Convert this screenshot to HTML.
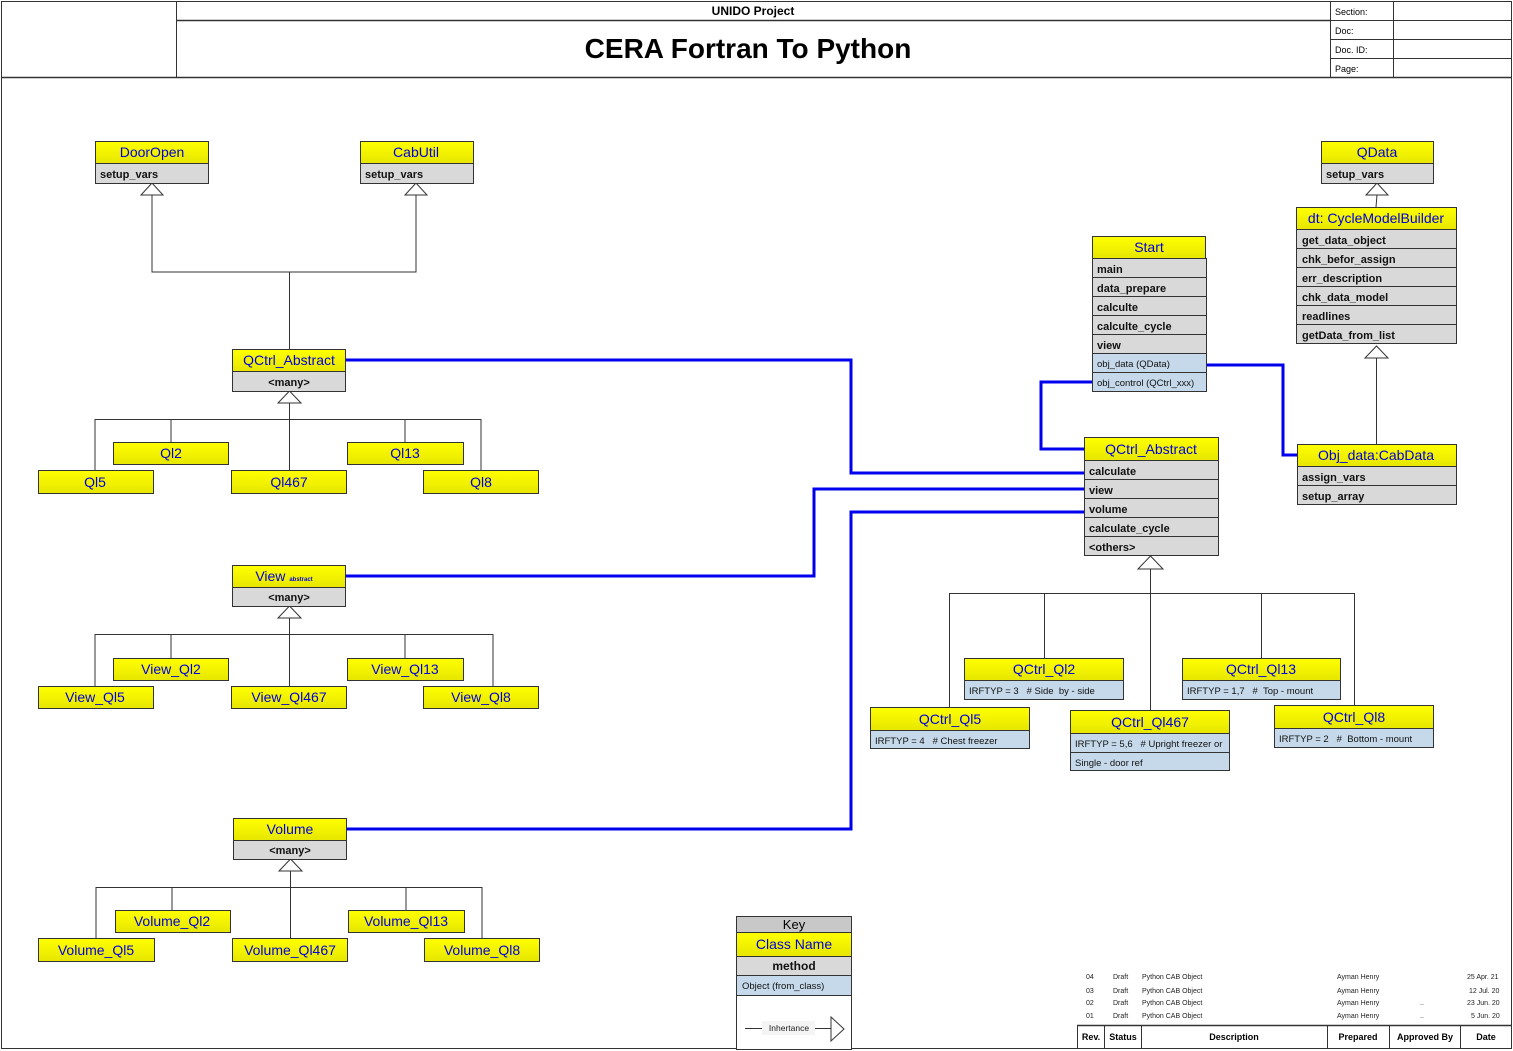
<!DOCTYPE html>
<html><head><meta charset="utf-8">
<style>
html,body{margin:0;padding:0;background:#fff;}
svg{display:block;}
text{font-family:"Liberation Sans",sans-serif;}
.h{fill:#0000e0;font-size:14px;text-anchor:middle;}
.m{fill:#111;font-size:11px;font-weight:bold;}
.mc{fill:#111;font-size:11px;font-weight:bold;text-anchor:middle;}
.o{fill:#111;font-size:9.5px;white-space:pre;}
.s{fill:#222;font-size:7px;}
.ln{stroke:#333;stroke-width:1;fill:none;}
.bl{stroke:#0000ee;stroke-width:3;fill:none;}
.y{fill:url(#yg);stroke:#333;stroke-width:1;}
.g{fill:#d9d9d9;stroke:#333;stroke-width:1;}
.b{fill:#c5d9ea;stroke:#333;stroke-width:1;}
.t{fill:#fff;stroke:#333;stroke-width:1;}
</style></head><body>
<svg width="1513" height="1051" viewBox="0 0 1513 1051" xmlns="http://www.w3.org/2000/svg" xml:space="preserve">
<defs>
<linearGradient id="yg" x1="0" y1="0" x2="0" y2="1"><stop offset="0" stop-color="#ffff00"/><stop offset="1" stop-color="#e6e600"/></linearGradient>
</defs>
<rect x="1.5" y="1.5" width="1510" height="1047" fill="none" stroke="#333"/>
<line x1="1" y1="77.5" x2="1512" y2="77.5" stroke="#333" stroke-width="1.5"/>
<line x1="176.5" y1="1" x2="176.5" y2="77" stroke="#333"/>
<line x1="1330.5" y1="1" x2="1330.5" y2="77" stroke="#333"/>
<line x1="176" y1="20.5" x2="1330" y2="20.5" stroke="#333" stroke-width="1.5"/>
<text x="753" y="15" style="font-size:12px;font-weight:bold;text-anchor:middle">UNIDO Project</text>
<text x="748" y="58" style="font-size:28px;font-weight:bold;text-anchor:middle">CERA Fortran To Python</text>
<line x1="1393.5" y1="1" x2="1393.5" y2="77" stroke="#333"/>
<line x1="1330" y1="20.5" x2="1512" y2="20.5" stroke="#333"/>
<line x1="1330" y1="39.5" x2="1512" y2="39.5" stroke="#333"/>
<line x1="1330" y1="58.5" x2="1512" y2="58.5" stroke="#333"/>
<text x="1335" y="15" style="font-size:9px">Section:</text>
<text x="1335" y="34" style="font-size:9px">Doc:</text>
<text x="1335" y="53" style="font-size:9px">Doc. ID:</text>
<text x="1335" y="72" style="font-size:9px">Page:</text>

<polyline class="bl" points="345,360 851,360 851,473 1084,473"/>
<polyline class="bl" points="345,576 814,576 814,489 1084,489"/>
<polyline class="bl" points="346,829 851,829 851,512 1084,512"/>
<polyline class="bl" points="1092,382 1041,382 1041,449 1084,449"/>
<polyline class="bl" points="1206,365 1283,365 1283,455 1297,455"/>

<polyline class="ln" points="152,195 152,272 416,272 416,195"/>
<line class="ln" x1="289.5" y1="272" x2="289.5" y2="349"/>
<polygon class="t" points="152,183 141,195 163,195"/>
<polygon class="t" points="416,183 405,195 427,195"/>

<rect class="y" x="95.5" y="141.5" width="113" height="22"/><text class="h" x="152" y="157">DoorOpen</text>
<rect class="g" x="95.5" y="163.5" width="113" height="20"/><text class="m" x="100" y="178">setup_vars</text>
<rect class="y" x="360.5" y="141.5" width="113" height="22"/><text class="h" x="416" y="157">CabUtil</text>
<rect class="g" x="360.5" y="163.5" width="113" height="20"/><text class="m" x="365" y="178">setup_vars</text>

<polyline class="ln" points="95,470 95,419.5 481,419.5 481,470"/>
<line class="ln" x1="171" y1="419" x2="171" y2="442"/>
<line class="ln" x1="405" y1="419" x2="405" y2="442"/>
<line class="ln" x1="289.5" y1="403" x2="289.5" y2="470"/>
<polygon class="t" points="289.5,391 278,403 301,403"/>
<rect class="y" x="232.5" y="349.5" width="113" height="22"/><text class="h" x="289" y="365">QCtrl_Abstract</text>
<rect class="g" x="232.5" y="371.5" width="113" height="20"/><text class="mc" x="289" y="386">&lt;many&gt;</text>
<rect class="y" x="113.5" y="442.5" width="115" height="22"/><text class="h" x="171" y="458">Ql2</text>
<rect class="y" x="347.5" y="442.5" width="116" height="22"/><text class="h" x="405" y="458">Ql13</text>
<rect class="y" x="38.5" y="470.5" width="115" height="23"/><text class="h" x="95" y="487">Ql5</text>
<rect class="y" x="231.5" y="470.5" width="115" height="23"/><text class="h" x="289" y="487">Ql467</text>
<rect class="y" x="423.5" y="470.5" width="115" height="23"/><text class="h" x="481" y="487">Ql8</text>

<polyline class="ln" points="95,686 95,634.5 493,634.5 493,686"/>
<line class="ln" x1="171" y1="634" x2="171" y2="658"/>
<line class="ln" x1="405" y1="634" x2="405" y2="658"/>
<line class="ln" x1="289.5" y1="618" x2="289.5" y2="686"/>
<polygon class="t" points="289.5,606 278,618 301,618"/>
<rect class="y" x="232.5" y="565.5" width="113" height="22"/><text class="h" x="284" y="581">View <tspan style="font-size:6px;font-weight:bold">abstract</tspan></text>
<rect class="g" x="232.5" y="587.5" width="113" height="19"/><text class="mc" x="289" y="601">&lt;many&gt;</text>
<rect class="y" x="113.5" y="658.5" width="115" height="22"/><text class="h" x="171" y="674">View_Ql2</text>
<rect class="y" x="347.5" y="658.5" width="116" height="22"/><text class="h" x="405" y="674">View_Ql13</text>
<rect class="y" x="38.5" y="686.5" width="115" height="22"/><text class="h" x="95" y="702">View_Ql5</text>
<rect class="y" x="231.5" y="686.5" width="115" height="22"/><text class="h" x="289" y="702">View_Ql467</text>
<rect class="y" x="423.5" y="686.5" width="115" height="22"/><text class="h" x="481" y="702">View_Ql8</text>

<polyline class="ln" points="96,938 96,887.5 482,887.5 482,938"/>
<line class="ln" x1="172" y1="887" x2="172" y2="910"/>
<line class="ln" x1="406" y1="887" x2="406" y2="910"/>
<line class="ln" x1="290.5" y1="871" x2="290.5" y2="938"/>
<polygon class="t" points="290.5,859 279,871 302,871"/>
<rect class="y" x="233.5" y="818.5" width="113" height="22"/><text class="h" x="290" y="834">Volume</text>
<rect class="g" x="233.5" y="840.5" width="113" height="19"/><text class="mc" x="290" y="854">&lt;many&gt;</text>
<rect class="y" x="115.5" y="910.5" width="115" height="22"/><text class="h" x="172" y="926">Volume_Ql2</text>
<rect class="y" x="348.5" y="910.5" width="116" height="22"/><text class="h" x="406" y="926">Volume_Ql13</text>
<rect class="y" x="38.5" y="938.5" width="116" height="23"/><text class="h" x="96" y="955">Volume_Ql5</text>
<rect class="y" x="232.5" y="938.5" width="115" height="23"/><text class="h" x="290" y="955">Volume_Ql467</text>
<rect class="y" x="424.5" y="938.5" width="115" height="23"/><text class="h" x="482" y="955">Volume_Ql8</text>

<line class="ln" x1="1377" y1="195" x2="1376" y2="207"/>
<polygon class="t" points="1377,183 1366,195 1388,195"/>
<rect class="y" x="1321.5" y="141.5" width="112" height="22"/><text class="h" x="1377" y="157">QData</text>
<rect class="g" x="1321.5" y="163.5" width="112" height="20"/><text class="m" x="1326" y="178">setup_vars</text>
<rect class="y" x="1296.5" y="207.5" width="160" height="22"/><text class="h" x="1376" y="223">dt: CycleModelBuilder</text>
<rect class="g" x="1296.5" y="229.5" width="160" height="19"/><text class="m" x="1302" y="244">get_data_object</text>
<rect class="g" x="1296.5" y="248.5" width="160" height="19"/><text class="m" x="1302" y="263">chk_befor_assign</text>
<rect class="g" x="1296.5" y="267.5" width="160" height="19"/><text class="m" x="1302" y="282">err_description</text>
<rect class="g" x="1296.5" y="286.5" width="160" height="19"/><text class="m" x="1302" y="301">chk_data_model</text>
<rect class="g" x="1296.5" y="305.5" width="160" height="19"/><text class="m" x="1302" y="320">readlines</text>
<rect class="g" x="1296.5" y="324.5" width="160" height="19"/><text class="m" x="1302" y="339">getData_from_list</text>
<line class="ln" x1="1376.5" y1="358" x2="1376.5" y2="444"/>
<polygon class="t" points="1376.5,346 1365,358 1388,358"/>
<rect class="y" x="1297.5" y="444.5" width="159" height="22"/><text class="h" x="1376" y="460">Obj_data:CabData</text>
<rect class="g" x="1297.5" y="466.5" width="159" height="19"/><text class="m" x="1302" y="481">assign_vars</text>
<rect class="g" x="1297.5" y="485.5" width="159" height="19"/><text class="m" x="1302" y="500">setup_array</text>

<rect class="y" x="1092.5" y="236.5" width="113" height="22"/><text class="h" x="1149" y="252">Start</text>
<rect class="g" x="1092.5" y="258.5" width="114" height="19"/><text class="m" x="1097" y="273">main</text>
<rect class="g" x="1092.5" y="277.5" width="114" height="19"/><text class="m" x="1097" y="292">data_prepare</text>
<rect class="g" x="1092.5" y="296.5" width="114" height="19"/><text class="m" x="1097" y="311">calculte</text>
<rect class="g" x="1092.5" y="315.5" width="114" height="19"/><text class="m" x="1097" y="330">calculte_cycle</text>
<rect class="g" x="1092.5" y="334.5" width="114" height="19"/><text class="m" x="1097" y="349">view</text>
<rect class="b" x="1092.5" y="353.5" width="114" height="19"/><text class="o" x="1097" y="367">obj_data (QData)</text>
<rect class="b" x="1092.5" y="372.5" width="114" height="19"/><text class="o" x="1097" y="386">obj_control (QCtrl_xxx)</text>

<rect class="y" x="1084.5" y="437.5" width="134" height="23"/><text class="h" x="1151" y="454">QCtrl_Abstract</text>
<rect class="g" x="1084.5" y="460.5" width="134" height="19"/><text class="m" x="1089" y="475">calculate</text>
<rect class="g" x="1084.5" y="479.5" width="134" height="19"/><text class="m" x="1089" y="494">view</text>
<rect class="g" x="1084.5" y="498.5" width="134" height="19"/><text class="m" x="1089" y="513">volume</text>
<rect class="g" x="1084.5" y="517.5" width="134" height="19"/><text class="m" x="1089" y="532">calculate_cycle</text>
<rect class="g" x="1084.5" y="536.5" width="134" height="19"/><text class="m" x="1089" y="551">&lt;others&gt;</text>

<polyline class="ln" points="949.5,707 949.5,593.5 1354.5,593.5 1354.5,705"/>
<line class="ln" x1="1044.5" y1="593" x2="1044.5" y2="658"/>
<line class="ln" x1="1261.5" y1="593" x2="1261.5" y2="658"/>
<line class="ln" x1="1150.5" y1="569" x2="1150.5" y2="710"/>
<polygon class="t" points="1150.5,556 1138,569 1163,569"/>
<rect class="y" x="964.5" y="658.5" width="159" height="22"/><text class="h" x="1044" y="674">QCtrl_Ql2</text>
<rect class="b" x="964.5" y="680.5" width="159" height="19"/><text class="o" x="969" y="694">IRFTYP = 3   # Side  by - side</text>
<rect class="y" x="1182.5" y="658.5" width="158" height="22"/><text class="h" x="1261" y="674">QCtrl_Ql13</text>
<rect class="b" x="1182.5" y="680.5" width="158" height="19"/><text class="o" x="1187" y="694">IRFTYP = 1,7   #  Top - mount</text>
<rect class="y" x="870.5" y="707.5" width="159" height="23"/><text class="h" x="950" y="724">QCtrl_Ql5</text>
<rect class="b" x="870.5" y="730.5" width="159" height="18"/><text class="o" x="875" y="744">IRFTYP = 4   # Chest freezer</text>
<rect class="y" x="1070.5" y="710.5" width="159" height="23"/><text class="h" x="1150" y="727">QCtrl_Ql467</text>
<rect class="b" x="1070.5" y="733.5" width="159" height="19"/><text class="o" x="1075" y="747">IRFTYP = 5,6   # Upright freezer or</text>
<rect class="b" x="1070.5" y="752.5" width="159" height="18"/><text class="o" x="1075" y="766">Single - door ref</text>
<rect class="y" x="1274.5" y="705.5" width="159" height="23"/><text class="h" x="1354" y="722">QCtrl_Ql8</text>
<rect class="b" x="1274.5" y="728.5" width="159" height="19"/><text class="o" x="1279" y="742">IRFTYP = 2   #  Bottom - mount</text>

<rect x="736.5" y="916.5" width="115" height="133" fill="#fff" stroke="#333"/>
<rect class="g" x="736.5" y="916.5" width="115" height="16" style="fill:#c8c8c8"/><text x="794" y="929" style="font-size:13px;text-anchor:middle">Key</text>
<rect class="y" x="736.5" y="932.5" width="115" height="24"/><text class="h" x="794" y="949">Class Name</text>
<rect class="g" x="736.5" y="956.5" width="115" height="19"/><text class="mc" x="794" y="970" style="font-size:12px">method</text>
<rect class="b" x="736.5" y="975.5" width="115" height="20"/><text class="o" x="742" y="989">Object (from_class)</text>
<line class="ln" x1="745" y1="1028.5" x2="831" y2="1028.5"/>
<rect x="762" y="1021" width="53" height="14" fill="#f4f4f4"/>
<text x="789" y="1031" style="font-size:8.5px;text-anchor:middle;fill:#222">Inhertance</text>
<polygon class="t" points="831,1017 844,1029 831,1041"/>

<line x1="1077" y1="1025.5" x2="1512" y2="1025.5" stroke="#333" stroke-width="1.5"/>
<line x1="1077.5" y1="1025" x2="1077.5" y2="1049" stroke="#333"/>
<line x1="1104.5" y1="1025" x2="1104.5" y2="1049" stroke="#333"/>
<line x1="1141.5" y1="1025" x2="1141.5" y2="1049" stroke="#333"/>
<line x1="1327.5" y1="1025" x2="1327.5" y2="1049" stroke="#333"/>
<line x1="1389.5" y1="1025" x2="1389.5" y2="1049" stroke="#333"/>
<line x1="1460.5" y1="1025" x2="1460.5" y2="1049" stroke="#333"/>
<g style="font-size:9px;font-weight:bold;text-anchor:middle">
<text x="1091" y="1040">Rev.</text><text x="1123" y="1040">Status</text><text x="1234" y="1040">Description</text>
<text x="1358" y="1040">Prepared</text><text x="1425" y="1040">Approved By</text><text x="1486" y="1040">Date</text>
</g>
<g class="s">
<text x="1086" y="979">04</text><text x="1113" y="979">Draft</text><text x="1142" y="979">Python CAB Object</text><text x="1337" y="979">Ayman Henry</text><text x="1467" y="979">25 Apr. 21</text>
<text x="1086" y="993">03</text><text x="1113" y="993">Draft</text><text x="1142" y="993">Python CAB Object</text><text x="1337" y="993">Ayman Henry</text><text x="1469" y="993">12 Jul. 20</text>
<text x="1086" y="1005">02</text><text x="1113" y="1005">Draft</text><text x="1142" y="1005">Python CAB Object</text><text x="1337" y="1005">Ayman Henry</text><text x="1420" y="1005">..</text><text x="1467" y="1005">23 Jun. 20</text>
<text x="1086" y="1018">01</text><text x="1113" y="1018">Draft</text><text x="1142" y="1018">Python CAB Object</text><text x="1337" y="1018">Ayman Henry</text><text x="1420" y="1018">..</text><text x="1471" y="1018">5 Jun. 20</text>
</g>
</svg>
</body></html>
